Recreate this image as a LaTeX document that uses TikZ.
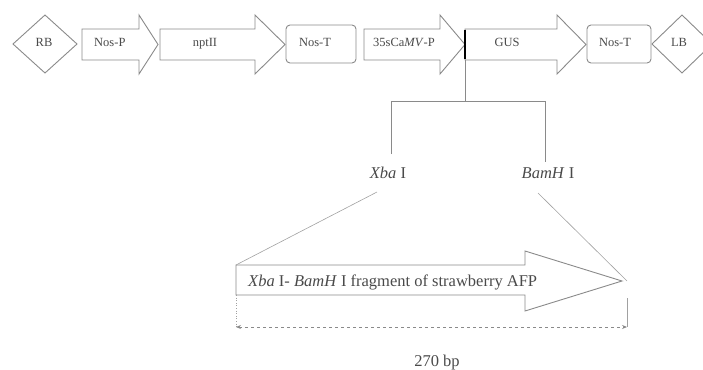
\documentclass[tikz,border=0pt]{standalone}
\usepackage{fontspec}
\setmainfont{Liberation Serif}
\usetikzlibrary{arrows.meta}
\definecolor{lin}{HTML}{8A8A8A}
\definecolor{txt}{HTML}{4A4A4A}
\begin{document}
\begin{tikzpicture}[x=1pt,y=-1pt,
  shp/.style={draw=lin,line width=0.9pt,fill=white,line join=miter},
  con/.style={draw=lin,line width=0.9pt},
  thin/.style={draw=lin!80,line width=0.6pt},
  lab/.style={inner sep=0pt,text=txt,font=\fontsize{12.5}{14}\selectfont},
  big/.style={inner sep=0pt,text=txt,font=\fontsize{16.5}{19}\selectfont}]
\useasboundingbox (0,0) rectangle (703,369);
% diamonds
\draw[shp] (13,44) -- (45,15) -- (77,44) -- (45,73) -- cycle;
\draw[shp] (652,44) -- (682,15) -- (712,44) -- (682,73) -- cycle;
% arrows
\draw[shp] (82,29) -- (139,29) -- (139,15) -- (158,44.5) -- (139,74) -- (139,60) -- (82,60) -- cycle;
\draw[shp] (160,29) -- (255,29) -- (255,15) -- (285,44.5) -- (255,74) -- (255,60) -- (160,60) -- cycle;
\draw[shp] (364,29) -- (440,29) -- (440,15) -- (465,44.5) -- (440,74) -- (440,60) -- (364,60) -- cycle;
\draw[shp] (465,29) -- (557,29) -- (557,15) -- (586,44.5) -- (557,74) -- (557,60) -- (465,60) -- cycle;
% boxes
\draw[shp,rounded corners=4pt] (286,25) rectangle (356,63);
\draw[shp,rounded corners=4pt] (587,25) rectangle (651,63);
% junction
\draw[black,line width=1.4pt] (465,30) -- (465,59);
% labels
\node[lab,anchor=base] (rb) at (44,47) {RB};
\node[lab,anchor=base west] (nosp) at (94,47) {Nos-P};
\node[lab,anchor=base] (npt) at (205,47) {nptII};
\node[lab,anchor=base] (nost) at (315,47) {Nos-T};
\node[lab,anchor=base west] (camv) at (373,47) {35sCa\textit{MV}-P};
\node[lab,anchor=base] (gus) at (507,47) {GUS};
\node[lab,anchor=base] (nost2) at (615,47) {Nos-T};
\node[lab,anchor=base] (lb) at (679,47) {LB};
% tree
\coordinate (g) at (465,60);
\coordinate (gb) at (465,101);
\coordinate (bl) at (391,101);
\coordinate (br) at (545,101);
\coordinate (bld) at (391,154);
\coordinate (brd) at (545,162);
\draw[con] (g) -- (gb);
\draw[con] (bld) -- (bl) -- (br) -- (brd);
\node[big,anchor=base] (xba) at (388,178) {\textit{Xba} I};
\node[big,anchor=base] (bam) at (548,178) {\textit{BamH} I};
% fragment arrow
\draw[shp] (236,265) -- (525,265) -- (525,251) -- (622,281) -- (525,311) -- (525,295) -- (236,295) -- cycle;
\node[big,anchor=base west] (frag) at (248,286) {\textit{Xba} I- \textit{BamH} I fragment of strawberry AFP};
\coordinate (fl) at (236,265);
\coordinate (fr) at (627,281);
\draw[thin] (377,192) -- (fl);
\draw[thin] (538,193) -- (fr);
% dimension
\coordinate (dl) at (236,327);
\coordinate (dr) at (627,327);
\draw[thin,dotted] (236,295) -- (dl);
\draw[thin] (627,298) -- (dr);
\draw[lin,line width=0.9pt,dashed,{Stealth[length=5pt,width=4pt]}-{Stealth[length=5pt,width=4pt]}] (dl) -- (dr);
\node[big,anchor=base] (bp) at (437,366) {270 bp};
\end{tikzpicture}
\end{document}
